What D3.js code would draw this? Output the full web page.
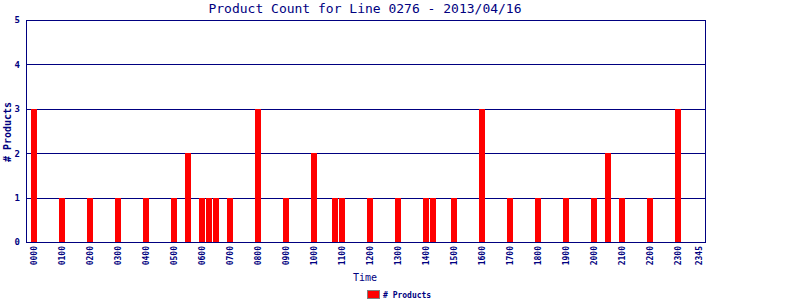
<!DOCTYPE html>
<html>
<head>
<meta charset="utf-8">
<script src="https://cdn.jsdelivr.net/npm/d3@7"></script>
<style>
  body { margin: 0; background: #fff; }
  svg { display: block; }
  text { font-family: "DejaVu Sans Mono", monospace; fill: #000080; }
</style>
</head>
<body>
<svg id="chart" width="800" height="300"></svg>
<script>
const barTimes = ["0000", "0100", "0200", "0300", "0400", "0500", "0530", "0600", "0615", "0630",
  "0700", "0800", "0900", "1000", "1045", "1100", "1200", "1300", "1400", "1415",
  "1500", "1600", "1700", "1800", "1900", "2000", "2030", "2100", "2200", "2300"];
const barCounts = [3, 1, 1, 1, 1, 1, 2, 1, 1, 1,
  1, 3, 1, 2, 1, 1, 1, 1, 1, 1,
  1, 3, 1, 1, 1, 1, 2, 1, 1, 3];
const tickLabels = ["0000", "0100", "0200", "0300", "0400", "0500", "0600", "0700", "0800", "0900",
  "1000", "1100", "1200", "1300", "1400", "1500", "1600", "1700", "1800", "1900",
  "2000", "2100", "2200", "2300", "2345"];
const yTicks = [0, 1, 2, 3, 4, 5];

// 15 minute slots for the whole day
const slots = [];
for (let h = 0; h < 24; h++) {
  for (const m of ["00", "15", "30", "45"]) slots.push(String(h).padStart(2, "0") + m);
}

const navy = "#000080";
const svg = d3.select("#chart");
const plotLeft = 26, plotRight = 705, plotTop = 20, plotBottom = 242;

const x = d3.scaleBand()
  .domain(slots)
  .range([30.5, 702.5])
  .paddingInner(1 / 7)
  .paddingOuter(1 / 14);

const y = d3.scaleLinear()
  .domain([0, 5])
  .range([plotBottom, plotTop]);

// grid lines
svg.append("g")
  .selectAll("line")
  .data(yTicks.slice(1))
  .join("line")
  .attr("x1", plotLeft).attr("x2", plotRight)
  .attr("y1", d => Math.round(y(d)) + 0.5).attr("y2", d => Math.round(y(d)) + 0.5)
  .attr("stroke", navy)
  .attr("shape-rendering", "crispEdges");

// bars
svg.append("g")
  .selectAll("rect")
  .data(barTimes.map((t, i) => ({ time: t, value: barCounts[i] })))
  .join("rect")
  .attr("x", d => x(d.time))
  .attr("width", x.bandwidth())
  .attr("y", d => Math.round(y(d.value)))
  .attr("height", d => plotBottom - Math.round(y(d.value)))
  .attr("fill", "#ff0000")
  .attr("shape-rendering", "crispEdges");

// frame: left, bottom, right
svg.append("path")
  .attr("d", `M${plotLeft + 0.5},${plotTop}V${plotBottom + 0.5}H${plotRight + 0.5}V${plotTop}`)
  .attr("fill", "none")
  .attr("stroke", navy)
  .attr("shape-rendering", "crispEdges");

// y axis
const yAxis = svg.append("g")
  .attr("transform", `translate(${plotLeft},0)`)
  .call(d3.axisLeft(y).tickValues(yTicks).tickSize(0).tickPadding(6).tickFormat(d3.format("d")));
yAxis.select(".domain").remove();
yAxis.selectAll("text")
  .attr("font-size", 9)
  .attr("font-weight", "bold")
  .attr("font-family", "DejaVu Sans Mono")
  .attr("fill", navy);

// x axis
const xAxis = svg.append("g")
  .attr("transform", `translate(0,${plotBottom})`)
  .call(d3.axisBottom(x).tickValues(tickLabels).tickSize(0));
xAxis.select(".domain").remove();
xAxis.selectAll(".tick text")
  .attr("font-size", 8)
  .attr("font-weight", "bold")
  .attr("font-family", "DejaVu Sans Mono")
  .attr("fill", navy)
  .attr("text-anchor", "end")
  .attr("transform", "translate(0,4) rotate(-90)")
  .attr("x", 0)
  .attr("y", 0)
  .attr("dy", "0.32em");

// title
svg.append("text")
  .attr("x", 365)
  .attr("y", 13)
  .attr("text-anchor", "middle")
  .attr("font-size", 13)
  .text("Product Count for Line 0276 - 2013/04/16");

// axis titles
svg.append("text")
  .attr("x", 365)
  .attr("y", 281)
  .attr("text-anchor", "middle")
  .attr("font-size", 10)
  .text("Time");

svg.append("text")
  .attr("transform", "translate(11,132) rotate(-90)")
  .attr("text-anchor", "middle")
  .attr("font-size", 10)
  .attr("font-weight", "bold")
  .text("# Products");

// legend
const legend = svg.append("g").attr("transform", "translate(367,290)");
legend.append("rect")
  .attr("x", 0.5).attr("y", 0.5)
  .attr("width", 12).attr("height", 8)
  .attr("fill", "#ff0000")
  .attr("stroke", "#808080")
  .attr("shape-rendering", "crispEdges");
legend.append("text")
  .attr("x", 16)
  .attr("y", 8)
  .attr("font-size", 8)
  .attr("font-weight", "bold")
  .text("# Products");
</script>
</body>
</html>
